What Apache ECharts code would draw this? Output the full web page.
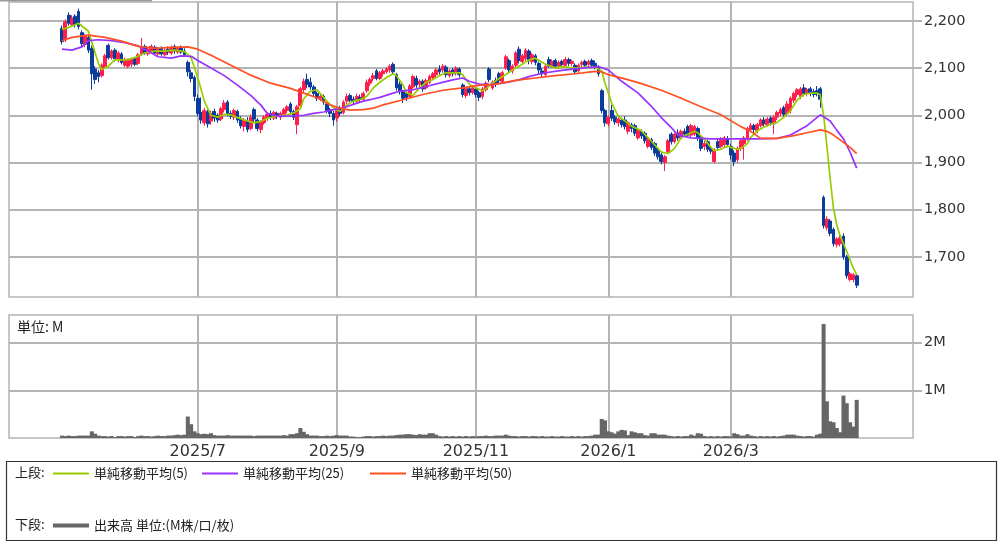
<!DOCTYPE html>
<html><head><meta charset="utf-8">
<script src="https://cdn.jsdelivr.net/npm/echarts@6/dist/echarts.min.js"></script>
<style>html,body{margin:0;padding:0;background:#fff}#c{width:1006px;height:551px}</style>
</head><body><div id="c"></div>
<script>
// trading days per month
const months = [['2025/5',20],['2025/6',21],['2025/7',22],['2025/8',20],['2025/9',20],['2025/10',22],['2025/11',18],['2025/12',22],['2026/1',19],['2026/2',18],['2026/3',21],['2026/4',18]];
const tickMonths = ['2025/7','2025/9','2025/11','2026/1','2026/3'];
const priceTicks = [1700,1800,1900,2000,2100,2200];
const volumeTicks = [1,2];
const padLeft = 16, padRight = 17;

// [open, close, low, high]
const candles = [
// 2025/5
[2184,2156,2150,2190],[2160,2198,2155,2203],[2212,2195,2190,2218],[2192,2206,2188,2212],[2210,2192,2186,2214],
[2220,2188,2182,2226],[2175,2152,2145,2180],[2150,2168,2144,2172],[2165,2138,2132,2170],[2142,2088,2054,2148],
[2098,2076,2066,2104],[2090,2082,2070,2096],[2084,2106,2080,2110],[2104,2126,2098,2130],[2148,2122,2118,2152],
[2122,2136,2118,2140],[2138,2120,2114,2142],[2118,2132,2112,2136],[2130,2112,2108,2134],[2106,2118,2102,2122],
// 2025/6
[2104,2116,2100,2120],[2108,2118,2102,2122],[2120,2108,2104,2124],[2110,2128,2106,2132],[2130,2142,2126,2164],
[2146,2132,2128,2150],[2130,2140,2126,2144],[2136,2146,2132,2150],[2144,2132,2128,2148],[2130,2140,2126,2144],
[2142,2130,2126,2146],[2128,2138,2124,2142],[2140,2134,2128,2146],[2132,2144,2128,2148],[2146,2136,2130,2150],
[2134,2142,2130,2146],[2144,2134,2130,2148],[2136,2128,2124,2142],[2112,2092,2082,2116],[2090,2078,2070,2096],
[2080,2040,2030,2084],
// 2025/7
[2036,2004,1998,2044],[2006,1990,1982,2038],[1984,2010,1978,2016],[2008,1982,1974,2012],[1988,2004,1980,2010],
[2008,1994,1986,2014],[2000,1990,1984,2004],[1992,2014,1988,2018],[2012,2026,2006,2032],[2028,2004,1998,2032],
[2004,1998,1992,2010],[1996,2010,1990,2014],[2008,1990,1984,2012],[1992,1978,1972,1998],[1976,1990,1966,1994],
[1988,1970,1964,1996],[1972,1996,1968,2002],[2012,1992,1986,2016],[1990,1972,1966,1994],[1970,1986,1962,1990],
[1984,1996,1980,2000],[1994,2002,1988,2006],
// 2025/8
[2004,1996,1990,2010],[1994,2006,1990,2010],[2004,1998,1992,2008],[1996,2004,1990,2008],[2002,2012,1998,2016],
[2010,2018,2004,2022],[2024,2008,2002,2028],[2008,1996,1990,2012],[1980,2018,1960,2022],[2020,2056,2016,2060],
[2054,2072,2048,2078],[2076,2066,2058,2088],[2070,2060,2054,2080],[2060,2046,2040,2064],[2046,2036,2030,2050],
[2036,2040,2030,2046],[2040,2028,2022,2044],[2024,2010,2004,2028],[2012,2004,1996,2016],[2004,1990,1978,2010],
// 2025/9
[1994,2010,1986,2016],[2014,2004,1998,2020],[2006,2028,2002,2032],[2030,2040,2024,2046],[2042,2032,2028,2046],
[2034,2030,2024,2040],[2030,2040,2026,2046],[2038,2034,2028,2044],[2034,2046,2030,2050],[2052,2070,2048,2076],
[2068,2076,2062,2080],[2078,2084,2072,2090],[2094,2078,2074,2098],[2078,2090,2074,2094],[2088,2094,2082,2098],
[2092,2098,2088,2102],[2096,2104,2090,2108],[2108,2092,2086,2112],[2086,2058,2052,2090],[2066,2050,2044,2072],
// 2025/10
[2050,2036,2026,2054],[2046,2038,2030,2050],[2040,2062,2036,2066],[2060,2082,2056,2086],[2078,2064,2058,2084],
[2066,2072,2060,2076],[2072,2056,2050,2076],[2058,2074,2054,2078],[2070,2082,2066,2086],[2080,2088,2074,2092],
[2086,2096,2080,2100],[2098,2092,2086,2106],[2096,2104,2090,2108],[2102,2086,2080,2106],[2084,2094,2080,2098],
[2096,2088,2082,2100],[2090,2100,2084,2104],[2098,2086,2080,2102],[2064,2044,2038,2068],[2042,2056,2036,2060],
[2056,2048,2042,2060],[2048,2058,2044,2062],
// 2025/11
[2056,2044,2038,2060],[2048,2038,2030,2052],[2040,2056,2034,2060],[2054,2068,2050,2072],[2098,2076,2070,2102],
[2058,2070,2054,2074],[2074,2066,2060,2080],[2088,2074,2068,2092],[2072,2090,2068,2094],[2100,2124,2096,2128],
[2116,2096,2090,2120],[2094,2104,2088,2108],[2106,2132,2102,2136],[2140,2116,2110,2146],[2114,2126,2110,2130],
[2120,2138,2114,2142],[2136,2116,2108,2140],[2114,2128,2108,2132],
// 2025/12
[2126,2112,2106,2130],[2110,2096,2088,2114],[2094,2088,2080,2100],[2086,2104,2082,2108],[2118,2104,2100,2124],
[2104,2114,2100,2118],[2116,2104,2100,2120],[2104,2112,2098,2116],[2114,2108,2102,2118],[2106,2118,2102,2124],
[2118,2110,2104,2122],[2110,2114,2104,2118],[2106,2092,2088,2110],[2094,2106,2090,2110],[2108,2112,2102,2116],
[2114,2106,2100,2118],[2108,2114,2102,2118],[2116,2106,2100,2120],[2110,2104,2098,2116],[2102,2088,2082,2106],
[2052,2010,2004,2056],[2010,1984,1976,2014],
// 2026/1
[1982,1996,1976,2000],[2010,1994,1988,2022],[1996,1986,1980,2000],[1984,1992,1976,1996],[1990,1980,1974,1994],
[1990,1976,1970,1998],[1966,1984,1960,1988],[1980,1972,1964,1984],[1978,1962,1956,1982],[1952,1968,1948,1972],
[1966,1956,1950,1970],[1962,1946,1940,1966],[1934,1950,1930,1954],[1948,1932,1926,1952],[1940,1920,1914,1944],
[1926,1912,1906,1930],[1916,1902,1896,1920],[1900,1912,1882,1916],[1922,1946,1918,1950],
// 2026/2
[1960,1944,1938,1964],[1944,1960,1940,1964],[1962,1952,1946,1970],[1952,1966,1948,1970],[1966,1960,1954,1972],
[1976,1958,1952,1980],[1958,1978,1954,1982],[1960,1976,1956,1980],[1972,1952,1946,1976],[1954,1930,1924,1958],
[1934,1940,1926,1946],[1944,1928,1922,1948],[1928,1924,1918,1934],[1902,1926,1898,1930],[1944,1932,1926,1950],
[1934,1950,1930,1954],[1938,1952,1932,1956],[1950,1938,1932,1956],
// 2026/3
[1934,1916,1906,1940],[1920,1902,1892,1926],[1906,1930,1900,1934],[1930,1946,1924,1950],[1940,1952,1906,1956],
[1952,1972,1946,1976],[1970,1978,1964,1984],[1978,1970,1962,1982],[1968,1980,1962,1984],[1978,1990,1974,1994],
[1990,1982,1976,1996],[1980,1992,1976,1996],[1994,1984,1978,1998],[1982,1996,1960,2000],[1996,2006,1990,2010],
[2004,2012,1998,2016],[2016,2002,1996,2020],[2004,2024,1998,2030],[2010,2036,2004,2040],[2032,2046,2026,2050],
[2044,2054,2038,2058],
// 2026/4
[2040,2056,2034,2060],[2058,2046,2040,2066],[2046,2054,2040,2058],[2056,2046,2040,2060],[2050,2044,2038,2056],
[2052,2046,2040,2062],[2056,2034,2016,2060],[1826,1766,1760,1830],[1762,1780,1756,1786],[1776,1750,1744,1780],
[1758,1728,1722,1762],[1726,1738,1720,1742],[1728,1740,1722,1746],[1744,1700,1694,1750],[1700,1660,1654,1704],
[1652,1664,1648,1668],[1652,1662,1646,1666],[1660,1640,1634,1664]
];

// volume in millions
const volume = [
0.05,0.04,0.05,0.04,0.04,0.05,0.05,0.05,0.05,0.14,0.09,0.05,0.04,0.04,0.03,0.04,0.02,0.04,0.04,0.03,
0.04,0.04,0.02,0.04,0.05,0.04,0.04,0.03,0.04,0.05,0.04,0.04,0.05,0.05,0.06,0.07,0.06,0.07,0.45,0.29,0.14,
0.10,0.08,0.09,0.08,0.10,0.06,0.05,0.05,0.05,0.06,0.05,0.05,0.05,0.05,0.05,0.05,0.05,0.04,0.05,0.05,0.05,0.05,
0.05,0.05,0.05,0.05,0.06,0.05,0.08,0.08,0.10,0.21,0.13,0.08,0.05,0.05,0.05,0.04,0.04,0.05,0.04,0.05,
0.06,0.05,0.05,0.05,0.03,0.03,0.02,0.02,0.03,0.04,0.04,0.03,0.04,0.04,0.05,0.04,0.05,0.05,0.06,0.07,
0.07,0.08,0.08,0.07,0.06,0.08,0.07,0.07,0.10,0.10,0.07,0.04,0.03,0.04,0.03,0.04,0.03,0.04,0.03,0.04,0.03,0.04,
0.03,0.04,0.04,0.05,0.04,0.04,0.05,0.05,0.05,0.07,0.05,0.04,0.04,0.03,0.04,0.04,0.03,0.04,
0.04,0.03,0.04,0.03,0.03,0.04,0.03,0.03,0.04,0.03,0.03,0.04,0.03,0.04,0.03,0.04,0.04,0.05,0.07,0.07,0.40,0.37,
0.14,0.12,0.09,0.14,0.17,0.16,0.06,0.14,0.12,0.10,0.10,0.06,0.05,0.10,0.10,0.07,0.07,0.07,0.05,
0.04,0.03,0.04,0.03,0.04,0.04,0.07,0.05,0.10,0.09,0.04,0.03,0.04,0.03,0.04,0.03,0.04,0.04,
0.03,0.10,0.08,0.05,0.05,0.08,0.05,0.04,0.03,0.04,0.03,0.04,0.03,0.04,0.03,0.04,0.05,0.07,0.07,0.07,0.05,
0.04,0.03,0.04,0.04,0.03,0.07,0.09,2.39,0.77,0.35,0.33,0.21,0.12,0.89,0.73,0.33,0.24,0.80
];

// moving averages: [dayIndex, value]
const ma5 = [[0,2182],[2,2186],[5,2195],[8,2178],[9,2155],[11,2110],[12,2097],[14,2104],[16,2118],[19,2117],[22,2122],[25,2132],[28,2136],[31,2136],[34,2138],[37,2135],[39,2122],[41,2080],[43,2030],[45,2000],[47,1996],[49,2002],[51,2001],[53,1995],[55,1990],[58,1984],[60,1987],[62,1994],[65,1998],[68,2001],[70,2005],[72,2014],[73,2035],[75,2051],[77,2054],[78,2046],[80,2030],[82,2016],[84,2008],[86,2022],[88,2030],[90,2033],[92,2040],[94,2058],[96,2070],[98,2080],[100,2088],[101,2084],[103,2064],[104,2048],[106,2042],[108,2058],[110,2070],[112,2076],[114,2084],[116,2090],[118,2090],[120,2090],[121,2086],[123,2066],[125,2058],[127,2052],[128,2056],[130,2068],[132,2078],[134,2086],[136,2096],[138,2104],[141,2117],[143,2121],[146,2108],[149,2100],[151,2103],[155,2100],[158,2102],[161,2102],[163,2094],[164,2068],[166,2026],[168,1998],[170,1988],[172,1977],[175,1967],[178,1945],[181,1922],[183,1919],[185,1930],[187,1953],[189,1960],[191,1966],[192,1963],[194,1949],[196,1932],[197,1925],[199,1928],[201,1935],[202,1932],[204,1928],[205,1930],[207,1940],[208,1953],[210,1967],[212,1975],[214,1981],[216,1985],[218,1996],[220,2010],[222,2032],[224,2044],[226,2047],[228,2047],[229,2044],[230,2000],[231,1935],[232,1865],[233,1802],[234,1767],[235,1745],[237,1711],[239,1676],[240,1662]];
const ma25 = [[0,2140],[3,2138],[6,2145],[8,2158],[11,2160],[15,2158],[19,2154],[23,2147],[26,2136],[29,2124],[33,2121],[36,2126],[39,2125],[41,2116],[45,2100],[49,2084],[53,2064],[57,2042],[60,2022],[62,2004],[65,1998],[69,1998],[73,2000],[76,2004],[79,2007],[82,2012],[85,2016],[88,2023],[91,2030],[93,2033],[96,2038],[100,2047],[102,2051],[106,2054],[110,2061],[114,2068],[118,2075],[121,2079],[123,2072],[126,2066],[130,2065],[134,2069],[138,2075],[141,2082],[145,2089],[151,2095],[157,2100],[162,2103],[165,2096],[169,2072],[174,2047],[178,2019],[181,1995],[184,1974],[186,1958],[190,1952],[196,1950],[203,1950],[210,1950],[216,1951],[220,1958],[225,1978],[229,2001],[232,1988],[234,1968],[236,1950],[238,1922],[240,1888]];
const ma50 = [[0,2158],[3,2165],[8,2170],[13,2165],[18,2157],[23,2146],[28,2142],[33,2144],[38,2145],[41,2140],[45,2127],[51,2106],[57,2085],[63,2068],[69,2057],[73,2047],[77,2037],[81,2022],[84,2015],[87,2011],[91,2012],[94,2015],[97,2022],[103,2033],[109,2044],[115,2053],[121,2058],[125,2063],[131,2066],[137,2074],[143,2079],[149,2084],[155,2088],[161,2093],[163,2092],[165,2086],[170,2077],[175,2067],[181,2053],[187,2036],[193,2018],[199,2001],[205,1976],[208,1966],[211,1951],[216,1951],[221,1957],[225,1963],[229,1969],[231,1966],[233,1958],[235,1948],[238,1932],[240,1919]];

// ---- build categories ----
const cats = [];
for (let k = 0; k < padLeft; k++) cats.push('L' + k);
months.forEach(([m, n]) => { for (let d = 1; d <= n; d++) cats.push(m + '-' + d); });
for (let k = 0; k < padRight; k++) cats.push('R' + k);
const isTick = (idx) => { const p = String(cats[idx]).split('-'); return p.length === 2 && p[1] === '1' && tickMonths.indexOf(p[0]) >= 0; };
const pad = (arr, empty) => Array(padLeft).fill(empty).concat(arr, Array(padRight).fill(empty));
const shift = (arr) => arr.map(([i, v]) => [i + padLeft, v]);

const FONT = "'DejaVu Sans', sans-serif";
const JFONT = "'Noto Sans CJK JP', sans-serif";
const GRID = '#b4b4b4';
const UP = '#ff1f4b', DOWN = '#0b3b9b';
const C5 = '#99cc00', C25 = '#9933ff', C50 = '#ff5022', CV = '#666666';
const fmt = v => String(v).replace(/\B(?=(\d{3})+(?!\d))/g, ',');

const xCommon = {
  type: 'category', data: cats, boundaryGap: false,
  axisLine: { show: false }, axisTick: { show: false },
  splitLine: { show: true, interval: (i) => isTick(i), lineStyle: { color: GRID, width: 2 } }
};
const legendCommon = {
  padding: 0, icon: 'rect', itemWidth: 36, itemHeight: 2, selectedMode: false,
  textStyle: { fontFamily: JFONT, fontSize: 13, color: '#222' }
};

const chart = echarts.init(document.getElementById('c'));
chart.setOption({
  animation: false,
  backgroundColor: '#fff',
  grid: [
    { left: 9, right: 93, top: 2, height: 295, show: true, borderColor: GRID, borderWidth: 1.5 },
    { left: 9, right: 93, top: 315, height: 123, show: true, borderColor: GRID, borderWidth: 1.5 }
  ],
  xAxis: [
    Object.assign({}, xCommon, { gridIndex: 0, axisLabel: { show: false } }),
    Object.assign({}, xCommon, { gridIndex: 1, axisLabel: { show: true, interval: (i) => isTick(i), formatter: v => v.split('-')[0], margin: 6, color: '#333', fontSize: 16, fontFamily: FONT } })
  ],
  yAxis: [
    { type: 'value', gridIndex: 0, position: 'right', min: 1615, max: 2240, splitNumber: 6,
      axisLine: { show: false },
      axisTick: { show: true, length: 9, customValues: priceTicks, lineStyle: { color: GRID, width: 2 } },
      axisLabel: { customValues: priceTicks, margin: 11, formatter: fmt, color: '#333', fontSize: 14.5, fontFamily: FONT },
      splitLine: { lineStyle: { color: GRID, width: 2 } } },
    { type: 'value', gridIndex: 1, position: 'right', min: 0, max: 2.58, interval: 1,
      axisLine: { show: false },
      axisTick: { show: true, length: 9, customValues: volumeTicks, lineStyle: { color: GRID, width: 2 } },
      axisLabel: { customValues: volumeTicks, margin: 11, formatter: v => v + 'M', color: '#333', fontSize: 14.5, fontFamily: FONT },
      splitLine: { lineStyle: { color: GRID, width: 2 } } }
  ],
  legend: [
    Object.assign({}, legendCommon, { data: ['単純移動平均(5)'], left: 53, top: 467 }),
    Object.assign({}, legendCommon, { data: ['単純移動平均(25)'], left: 202, top: 467 }),
    Object.assign({}, legendCommon, { data: ['単純移動平均(50)'], left: 370, top: 467 }),
    Object.assign({}, legendCommon, { data: ['出来高 単位:(M株/口/枚)'], left: 53, top: 519, itemHeight: 4 })
  ],
  graphic: [
    { type: 'line', shape: { x1: 0, y1: 0.5, x2: 152, y2: 0.5 }, style: { stroke: '#999', lineWidth: 2 } },
    { type: 'text', left: 17, top: 320, style: { text: '単位: M', font: "14px 'Noto Sans CJK JP'", fill: '#222' } },
    { type: 'rect', shape: { x: 6.5, y: 461.5, width: 990, height: 79 }, style: { fill: 'none', stroke: '#333', lineWidth: 1.2 } },
    { type: 'text', left: 15, top: 466, style: { text: '上段:', font: "13px 'Noto Sans CJK JP'", fill: '#222' } },
    { type: 'text', left: 15, top: 518, style: { text: '下段:', font: "13px 'Noto Sans CJK JP'", fill: '#222' } }
  ],
  series: [
    { type: 'candlestick', xAxisIndex: 0, yAxisIndex: 0, data: pad(candles, ['-','-','-','-']), barWidth: 3.3,
      itemStyle: { color: UP, color0: DOWN, borderColor: UP, borderColor0: DOWN, borderWidth: 1 } },
    { name: '単純移動平均(5)', type: 'line', xAxisIndex: 0, yAxisIndex: 0, data: shift(ma5), symbol: 'none', z: 3,
      lineStyle: { color: C5, width: 1.7 }, itemStyle: { color: C5 } },
    { name: '単純移動平均(25)', type: 'line', xAxisIndex: 0, yAxisIndex: 0, data: shift(ma25), symbol: 'none', z: 3,
      lineStyle: { color: C25, width: 1.7 }, itemStyle: { color: C25 } },
    { name: '単純移動平均(50)', type: 'line', xAxisIndex: 0, yAxisIndex: 0, data: shift(ma50), symbol: 'none', z: 3,
      lineStyle: { color: C50, width: 1.7 }, itemStyle: { color: C50 } },
    { name: '出来高 単位:(M株/口/枚)', type: 'bar', xAxisIndex: 1, yAxisIndex: 1, data: pad(volume, '-'), barWidth: 4,
      itemStyle: { color: CV } }
  ]
});
</script>
</body></html>
